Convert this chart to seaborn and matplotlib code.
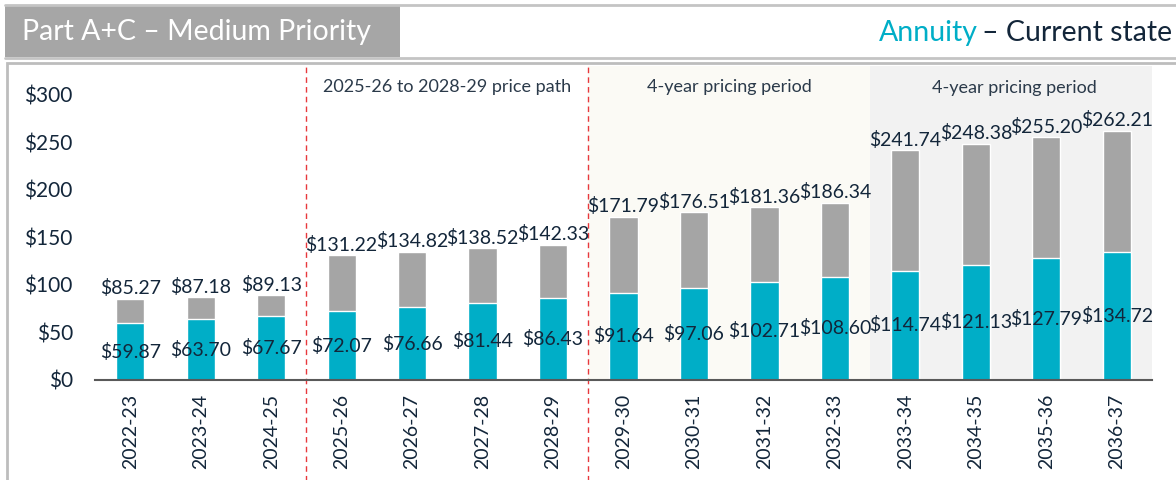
import matplotlib
matplotlib.use('Agg')
import matplotlib.pyplot as plt
import seaborn as sns
import pandas as pd
from matplotlib.patches import Rectangle
from matplotlib.lines import Line2D

# Chart values
years = ['2022-23', '2023-24', '2024-25', '2025-26', '2026-27', '2027-28', '2028-29',
         '2029-30', '2030-31', '2031-32', '2032-33', '2033-34', '2034-35', '2035-36', '2036-37']
totals = [85.27, 87.18, 89.13, 131.22, 134.82, 138.52, 142.33,
          171.79, 176.51, 181.36, 186.34, 241.74, 248.38, 255.20, 262.21]
annuity = [59.87, 63.70, 67.67, 72.07, 76.66, 81.44, 86.43,
           91.64, 97.06, 102.71, 108.60, 114.74, 121.13, 127.79, 134.72]
y_ticks = [0, 50, 100, 150, 200, 250, 300]
period_labels = ['2025-26 to 2028-29 price path', '4-year pricing period', '4-year pricing period']

TEAL = '#00AEC7'
GREY = '#A5A5A5'
DARK = '#13263A'

df = pd.DataFrame({'year': years, 'total': totals, 'annuity': annuity})

sns.set_style('white')
plt.rcParams['font.family'] = ['Lato', 'DejaVu Sans']

fig = plt.figure(figsize=(11.76, 4.8), dpi=100)
W, H = 1176, 480

def fx(px):
    return px / W

def fy(py):
    return 1 - py / H

# header strip
fig.add_artist(Rectangle((fx(5), fy(57)), fx(395), 52 / H, transform=fig.transFigure,
                         facecolor='#A6A6A6', edgecolor='none'))
for yy in (5, 58):
    fig.add_artist(Line2D([fx(5), 1], [fy(yy), fy(yy)], transform=fig.transFigure,
                          color='#C4C4C4', lw=2))
fig.text(fx(22), fy(32), 'Part A+C \u2013 Medium Priority', color='white', fontsize=20.5,
         va='center', ha='left')

# panel frame
fig.add_artist(Rectangle((fx(7), fy(490)), fx(1180), 427 / H, transform=fig.transFigure,
                         facecolor='none', edgecolor='#BDBDBD', lw=2))

ax = fig.add_axes([fx(95), fy(380), fx(1057), (380 - 66) / H])
ax.set_xlim(-0.48, 14.6)
ax.set_ylim(0, 330)

# shaded pricing periods
ax.axvspan(6.5, 10.5, color='#FBFAF5', zorder=0, lw=0)
ax.axvspan(10.5, 14.6, color='#F2F2F2', zorder=0, lw=0)
for xv in (2.5, 6.5):
    ax.axvline(xv, ymin=-0.35, ymax=1, color='#E8383D', ls=(0, (4, 3)), lw=1, clip_on=False)

sns.barplot(data=df, x='year', y='total', color=GREY, width=0.4, saturation=1, ax=ax, zorder=2)
sns.barplot(data=df, x='year', y='annuity', color=TEAL, width=0.4, saturation=1, ax=ax, zorder=3)

for i, (t, a) in enumerate(zip(totals, annuity)):
    ax.text(i, t + 1.5, f'${t:.2f}', ha='center', va='bottom', fontsize=14, color=DARK, zorder=5)
    ax.text(i, a / 2, f'${a:.2f}', ha='center', va='center', fontsize=14, color=DARK, zorder=5)

ax.text(4.5, 308, period_labels[0], ha='center', va='center', fontsize=13, color='#2B3A4A')
ax.text(8.5, 308, period_labels[1], ha='center', va='center', fontsize=13, color='#2B3A4A')
ax.text(12.55, 307, period_labels[2], ha='center', va='center', fontsize=13, color='#2B3A4A')

ax.set_yticks(y_ticks)
ax.set_yticklabels([f'${v}' for v in y_ticks], fontsize=15, color=DARK)
ax.tick_params(axis='y', length=0, pad=16)
ax.tick_params(axis='x', length=0, pad=10)
ax.set_xticks(range(len(years)))
ax.set_xticklabels(years, rotation=90, fontsize=14, color=DARK)
ax.set_xlabel('')
ax.set_ylabel('')
for s in ('top', 'right', 'left'):
    ax.spines[s].set_visible(False)
ax.spines['bottom'].set_color('#595959')
ax.spines['bottom'].set_linewidth(1.5)
ax.spines['bottom'].set_zorder(6)
ax.patch.set_alpha(0)

# right header: "Annuity – Current state"
t2 = fig.text(fx(1172), fy(33), '\u2013 Current state', color=DARK, fontsize=20.5,
              ha='right', va='center')
fig.canvas.draw()
bb = t2.get_window_extent()
fig.text(bb.x0 / W - fx(4), fy(33), 'Annuity', color=TEAL, fontsize=20.5, ha='right', va='center')

fig.savefig('out.png', dpi=100)
